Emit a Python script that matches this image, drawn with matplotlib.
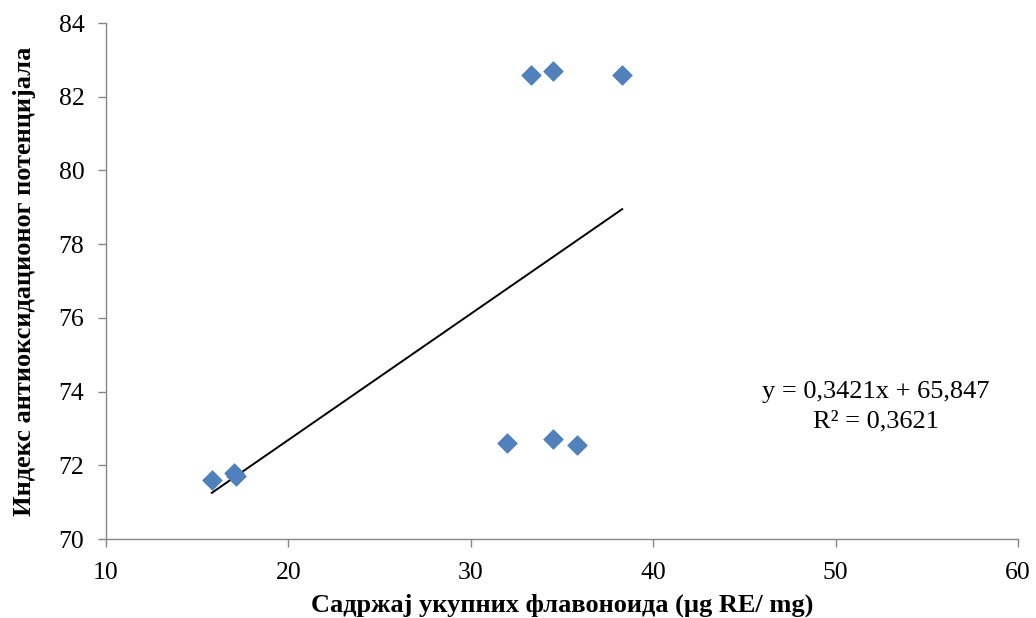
import matplotlib
matplotlib.use("Agg")
import matplotlib.pyplot as plt
import numpy as np

plt.rcParams['font.family'] = ['Liberation Serif', 'DejaVu Serif']

x_vals = [15.8, 17.0, 17.1, 32.0, 34.5, 35.8, 33.3, 34.5, 38.3]
y_vals = [71.6, 71.8, 71.7, 72.6, 72.7, 72.55, 82.6, 82.7, 82.6]
slope = 0.3421
intercept = 65.847
r2_text = "R² = 0,3621"
eq_text = "y = 0,3421x + 65,847"

xlabel = "Садржај укупних флавоноида (µg RE/ mg)"
ylabel = "Индекс антиоксидационог потенцијала"

fig = plt.figure(figsize=(10.36, 6.18), dpi=100)
ax = fig.add_axes([106/1036, 1-539/618, (1018-106)/1036, (539-23)/618])

ax.scatter(x_vals, y_vals, marker='D', s=100, color='#4F81BD', edgecolor='#4A7EBB', linewidth=0.5, zorder=3)
xl = np.array([min(x_vals), max(x_vals)])
ax.plot(xl, slope*xl + intercept, color='black', linewidth=1.4, zorder=2)

ax.set_xlim(10, 60)
ax.set_ylim(70, 84)
ax.set_xticks(range(10, 61, 10))
ax.set_yticks(range(70, 85, 2))
ax.tick_params(axis='both', labelsize=18.5, direction='out', length=5.5, width=1.0, color='#868686')
ax.tick_params(axis='y', pad=10)
ax.tick_params(axis='x', pad=11)
for s in ['top', 'right']:
    ax.spines[s].set_visible(False)
for s in ['left', 'bottom']:
    ax.spines[s].set_color('#868686')
    ax.spines[s].set_linewidth(1.0)

ax.set_xlabel(xlabel, fontsize=19, fontweight='bold', labelpad=7)
ax.set_ylabel(ylabel, fontsize=19, fontweight='bold', labelpad=16)

ax.text(876/1036, 1-392/618, eq_text, transform=fig.transFigure, ha='center', va='center', fontsize=19)
ax.text(876/1036, 1-421/618, r2_text, transform=fig.transFigure, ha='center', va='center', fontsize=19)

fig.savefig("out.png", dpi=100)
